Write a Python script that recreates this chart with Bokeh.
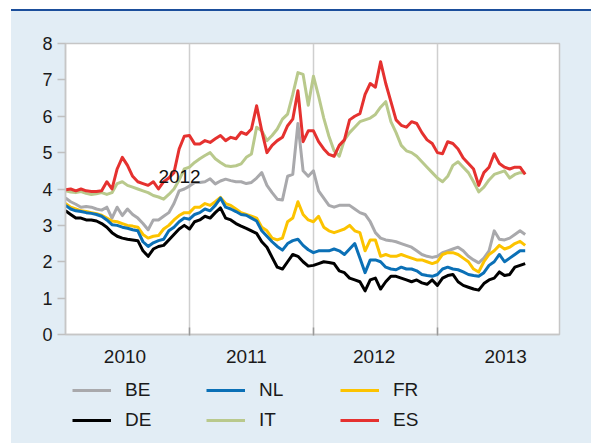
import numpy as np
from bokeh.plotting import figure
from bokeh.layouts import column
from bokeh.models import (FixedTicker, Legend, LegendItem, Range1d, Label)
from bokeh.embed import file_html
from bokeh.resources import INLINE

# half-monthly observations from Jan 2010
n_obs = 90
dates = 2010 + np.arange(n_obs) / 24.0

BE = [3.75, 3.65, 3.58, 3.5, 3.52, 3.5, 3.45, 3.42, 3.5, 3.2,
      3.5, 3.27, 3.45, 3.3, 3.2, 3.05, 2.88, 3.15, 3.15, 3.25,
      3.35, 3.6, 3.95, 4.0, 4.08, 4.18, 4.18, 4.2, 4.28, 4.14,
      4.22, 4.27, 4.23, 4.2, 4.2, 4.15, 4.18, 4.3, 4.45, 4.1,
      3.9, 3.72, 3.7, 4.35, 4.4, 5.8, 4.5, 4.35, 4.5, 3.95,
      3.75, 3.55, 3.5, 3.55, 3.55, 3.55, 3.45, 3.35, 3.3, 3.1,
      2.8, 2.65, 2.6, 2.58, 2.55, 2.5, 2.45, 2.4, 2.3, 2.2,
      2.15, 2.12, 2.15, 2.25, 2.3, 2.35, 2.4, 2.3, 2.15, 2.05,
      1.97, 2.1, 2.3, 2.85, 2.62, 2.6, 2.65, 2.75, 2.85, 2.75]

DE = [3.4, 3.3, 3.2, 3.2, 3.15, 3.15, 3.12, 3.05, 2.95, 2.8,
      2.7, 2.65, 2.62, 2.6, 2.58, 2.3, 2.15, 2.35, 2.42, 2.45,
      2.6, 2.75, 2.9, 3.0, 2.9, 3.1, 3.15, 3.25, 3.2, 3.35,
      3.48, 3.2, 3.15, 3.05, 2.98, 2.92, 2.85, 2.78, 2.55, 2.4,
      2.12, 1.85, 1.8, 2.0, 2.2, 2.15, 2.0, 1.88, 1.9, 1.95,
      2.0, 1.98, 1.95, 1.75, 1.7, 1.55, 1.5, 1.45, 1.2, 1.5,
      1.55, 1.25, 1.45, 1.6, 1.6, 1.55, 1.5, 1.45, 1.5, 1.42,
      1.38, 1.5, 1.35, 1.55, 1.62, 1.65, 1.45, 1.35, 1.3, 1.25,
      1.22, 1.4, 1.5, 1.55, 1.72, 1.62, 1.65, 1.85, 1.9, 1.95]

NL = [3.55, 3.45, 3.4, 3.38, 3.35, 3.33, 3.3, 3.25, 3.15, 3.02,
      3.0, 2.95, 2.92, 2.88, 2.85, 2.55, 2.42, 2.52, 2.58, 2.62,
      2.85, 2.95, 3.1, 3.2, 3.17, 3.3, 3.35, 3.45, 3.4, 3.55,
      3.75, 3.5, 3.45, 3.38, 3.3, 3.28, 3.2, 3.12, 2.85, 2.7,
      2.55, 2.42, 2.32, 2.5, 2.58, 2.62, 2.45, 2.33, 2.25, 2.3,
      2.3, 2.3, 2.35, 2.3, 2.2, 2.35, 2.5, 2.1, 1.7, 2.05,
      2.05, 2.0, 1.85, 1.8, 1.78, 1.85, 1.8, 1.8, 1.75, 1.65,
      1.62, 1.6, 1.65, 1.8, 1.85, 1.8, 1.78, 1.72, 1.65, 1.62,
      1.6, 1.7, 1.9, 2.0, 2.2, 2.0, 2.1, 2.2, 2.3, 2.3]

IT = [3.95, 3.92, 3.9, 3.93, 3.88, 3.85, 3.87, 3.9, 3.85, 3.9,
      4.15, 4.2, 4.1, 4.05, 4.0, 3.95, 3.9, 3.82, 3.78, 3.72,
      3.85, 4.0, 4.25, 4.55, 4.6, 4.73, 4.83, 4.92, 5.0, 4.83,
      4.73, 4.64, 4.62, 4.64, 4.69, 4.87, 4.96, 5.7, 5.6, 5.33,
      5.47, 5.65, 5.92, 6.06, 6.6, 7.2, 7.15, 6.3, 7.1, 6.55,
      5.95, 5.45, 5.05, 4.9, 5.35, 5.55, 5.7, 5.85, 5.9, 5.95,
      6.05, 6.25, 6.4, 5.85, 5.55, 5.2, 5.05, 5.0, 4.9, 4.75,
      4.6, 4.45, 4.3, 4.2, 4.35, 4.65, 4.75, 4.6, 4.45, 4.2,
      3.92, 4.05, 4.25, 4.4, 4.45, 4.5, 4.3, 4.4, 4.45, 4.45]

FR = [3.6, 3.5, 3.45, 3.4, 3.38, 3.35, 3.32, 3.28, 3.2, 3.12,
      3.1, 3.05, 3.0, 2.98, 2.95, 2.75, 2.65, 2.7, 2.72, 2.9,
      3.0, 3.15, 3.27, 3.35, 3.35, 3.5, 3.5, 3.6, 3.55, 3.65,
      3.77, 3.6, 3.55, 3.45, 3.35, 3.3, 3.25, 3.2, 2.95, 2.85,
      2.65, 2.6, 2.65, 3.1, 3.2, 3.65, 3.3, 3.15, 3.1, 3.25,
      2.95, 2.85, 2.8, 2.85, 2.9, 3.0, 2.85, 2.8, 2.3, 2.6,
      2.6, 2.15, 2.2, 2.15, 2.15, 2.2, 2.15, 2.1, 2.05, 2.05,
      2.0, 1.95, 2.0, 2.2, 2.25, 2.25, 2.2, 2.1, 2.0, 1.8,
      1.72, 2.0, 2.2, 2.3, 2.45, 2.35, 2.4, 2.5, 2.56, 2.45]

ES = [3.98, 4.0, 3.95, 4.0, 3.95, 3.93, 3.93, 3.95, 4.2, 4.0,
      4.55, 4.87, 4.65, 4.35, 4.2, 4.15, 4.1, 4.2, 4.0, 4.2,
      4.3, 4.45, 5.1, 5.45, 5.47, 5.24, 5.24, 5.33, 5.28, 5.38,
      5.47, 5.33, 5.42, 5.38, 5.56, 5.5, 5.65, 6.29, 5.6, 5.0,
      5.2, 5.33, 5.42, 5.74, 5.92, 6.7, 5.3, 5.6, 5.6, 5.3,
      5.1, 4.95, 4.9, 5.2, 5.35, 5.9, 6.0, 6.07, 6.6, 6.9,
      6.8, 7.5, 6.9, 6.4, 5.9, 5.75, 5.7, 5.85, 5.8, 5.55,
      5.35, 5.25, 5.0, 4.97, 5.3, 5.25, 5.1, 4.85, 4.7, 4.55,
      4.1, 4.45, 4.6, 4.97, 4.7, 4.6, 4.55, 4.6, 4.6, 4.4]

year_labels = ["2010", "2011", "2012", "2013"]
year_label_pos = [2010.48, 2011.46, 2012.49, 2013.55]
year_bounds = [2011, 2012, 2013]
y_ticks = [0, 1, 2, 3, 4, 5, 6, 7, 8]
legend_order = ["BE", "DE", "NL", "IT", "FR", "ES"]

series = {"BE": BE, "DE": DE, "NL": NL, "IT": IT, "FR": FR, "ES": ES}
colors = {"BE": "#a9a9ac", "DE": "#000000", "NL": "#0b70b6", "IT": "#b9c98c",
          "FR": "#fcc300", "ES": "#e5312f"}

BG = "#e2edf5"
FONT = "Liberation Sans"

# ---- main chart ----
p = figure(width=580, height=361,
           x_range=Range1d(2010, 2013.985), y_range=Range1d(0, 8),
           output_backend="svg", toolbar_location=None,
           min_border_left=54, min_border_right=32, min_border_top=32, min_border_bottom=38,
           border_fill_color=BG, background_fill_color="white")
p.outline_line_color = "#c6c6c6"
p.outline_line_width = 1.5

p.xaxis.ticker = FixedTicker(ticks=year_label_pos, minor_ticks=year_bounds)
p.xaxis.major_label_overrides = {pos: lab for pos, lab in zip(year_label_pos, year_labels)}
p.xaxis.major_tick_in = 0
p.xaxis.major_tick_out = 0
p.xaxis.minor_tick_in = 7
p.xaxis.minor_tick_out = 1
p.xaxis.minor_tick_line_color = "#9a9a9a"
p.xaxis.minor_tick_line_width = 1.5
p.xaxis.major_label_standoff = 14
p.yaxis.ticker = FixedTicker(ticks=y_ticks)
p.yaxis.major_tick_in = 0
p.yaxis.major_tick_out = 8
p.yaxis.minor_tick_line_color = None
p.yaxis.major_tick_line_color = "#c0c0c0"
p.yaxis.major_tick_line_width = 1.5
p.yaxis.major_label_standoff = 5
for ax in (p.xaxis, p.yaxis):
    ax.axis_line_color = "#c6c6c6"
    ax.axis_line_width = 1.5
    ax.major_label_text_font = FONT
    ax.major_label_text_color = "#1a1a1a"
p.xaxis.major_label_text_font_size = "19px"
p.yaxis.major_label_text_font_size = "18px"

p.xgrid.ticker = FixedTicker(ticks=year_bounds)
p.xgrid.grid_line_color = "#cfcfcf"
p.xgrid.grid_line_width = 1.5
p.ygrid.visible = False

for name in ["BE", "IT", "ES", "FR", "NL", "DE"]:
    p.line(dates, series[name], line_color=colors[name], line_width=3, line_join="round")

p.add_layout(Label(x=2010.92, y=4.33, text="2012", text_align="center",
                   text_baseline="middle", text_font_size="19px", text_font=FONT,
                   text_color="#111111"))

# ---- legend strip below the chart (its lines fall outside its own view) ----
pl = figure(width=580, height=71, x_range=Range1d(0, 1), y_range=Range1d(0, 1),
            x_axis_type=None, y_axis_type=None,
            output_backend="svg", toolbar_location=None,
            min_border_left=0, min_border_right=0, min_border_top=0, min_border_bottom=0,
            border_fill_color=BG, background_fill_color=BG)
pl.outline_line_color = None
pl.grid.visible = False
leg_renderers = {n: pl.line(dates, series[n], line_color=colors[n], line_width=3)
                 for n in legend_order}
legend = Legend(items=[LegendItem(label=n, renderers=[leg_renderers[n]]) for n in legend_order],
                location=(7, 8), orientation="vertical", nrows=2,
                glyph_width=39, glyph_height=30, label_height=30, label_width=81,
                label_standoff=14, spacing=0, padding=0, margin=0,
                border_line_color=None, background_fill_alpha=0,
                label_text_font_size="19px", label_text_font=FONT,
                label_text_color="#1a1a1a")
pl.add_layout(legend)

layout = column(p, pl, spacing=0,
                styles={"margin-left": "11px", "margin-top": "9px",
                        "border-top": "2px solid #1b4e9b", "background-color": BG})

open("out.html", "w").write(file_html(layout, INLINE))
